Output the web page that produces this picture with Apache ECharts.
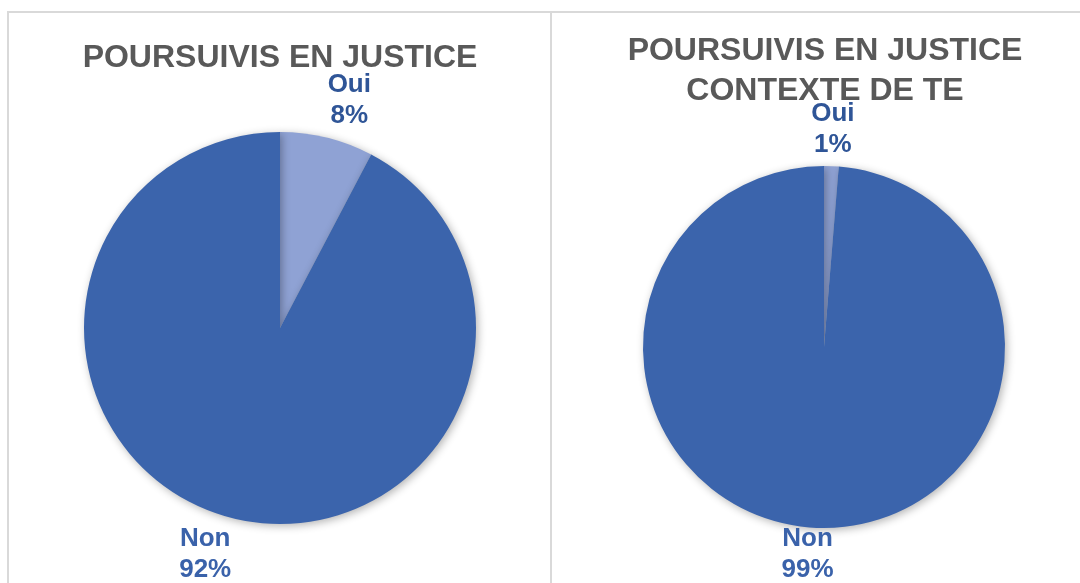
<!DOCTYPE html>
<html lang="fr">
<head>
  <meta charset="UTF-8">
  <title>Poursuivis en justice</title>
  <script src="https://cdn.jsdelivr.net/npm/echarts@6/dist/echarts.min.js"></script>
  <style>
    html, body { margin: 0; padding: 0; background: #fff; }
    #main { width: 1080px; height: 583px; }
  </style>
</head>
<body>
<div id="main"></div>
<script>
  // categories and shares
  const categories = ['Oui', 'Non'];
  const valuesAll = [7.7, 92.3];   // poursuivis en justice
  const valuesTE = [1.3, 98.7];    // contexte de TE
  const titleLeft = 'POURSUIVIS EN JUSTICE';
  const titleRight = 'POURSUIVIS EN JUSTICE\nCONTEXTE DE TE';

  const colors = ['#8FA2D4', '#3B64AC'];
  const labelColors = ['#2F5597', '#3A62AA'];

  var myChart = echarts.init(document.getElementById('main'));

  // label offsets per slice, so text sits where the original had it
  function buildData(values, lines) {
    return categories.map(function (name, i) {
      return {
        name: name,
        value: values[i],
        itemStyle: { color: colors[i] },
        label: { color: labelColors[i] },
        labelLine: { show: false, length: lines[i][0], length2: lines[i][1] }
      };
    });
  }

  function pieSeries(center, radius, data) {
    return {
      type: 'pie',
      center: center,
      radius: radius,
      startAngle: 90,
      clockwise: true,
      avoidLabelOverlap: false,
      percentPrecision: 0,
      animation: false,
      silent: true,
      itemStyle: {
        shadowBlur: 8,
        shadowOffsetX: 2,
        shadowOffsetY: 2,
        shadowColor: 'rgba(0, 0, 0, 0.3)'
      },
      label: {
        show: true,
        position: 'outside',
        formatter: '{b}\n{d}%',
        fontFamily: 'Liberation Sans, Arial, sans-serif',
        fontWeight: 'bold',
        fontSize: 26,
        lineHeight: 31
      },
      labelLayout: { align: 'center' },
      data: data
    };
  }

  const titleStyle = {
    fontFamily: 'Liberation Sans, Arial, sans-serif',
    fontWeight: 'bold',
    fontSize: 32,
    lineHeight: 40,
    color: '#595959'
  };

  myChart.setOption({
    backgroundColor: '#fff',
    title: [
      { text: titleLeft, left: 280, top: 38, textAlign: 'center', padding: 0, textStyle: titleStyle },
      { text: titleRight, left: 825, top: 31, textAlign: 'center', padding: 0, textStyle: titleStyle }
    ],
    graphic: [
      { type: 'rect', shape: { x: 8, y: 12, width: 543, height: 600 },
        style: { fill: 'none', stroke: '#d9d9d9', lineWidth: 2 }, silent: true, z: -1 },
      { type: 'rect', shape: { x: 551, y: 12, width: 560, height: 600 },
        style: { fill: 'none', stroke: '#d9d9d9', lineWidth: 2 }, silent: true, z: -1 }
    ],
    series: [
      pieSeries([280, 328], 196, buildData(valuesAll, [[39, 8], [37, 14]])),
      pieSeries([824, 347], 181, buildData(valuesTE, [[37, -5], [27, 3]]))
    ]
  });
</script>
</body>
</html>
